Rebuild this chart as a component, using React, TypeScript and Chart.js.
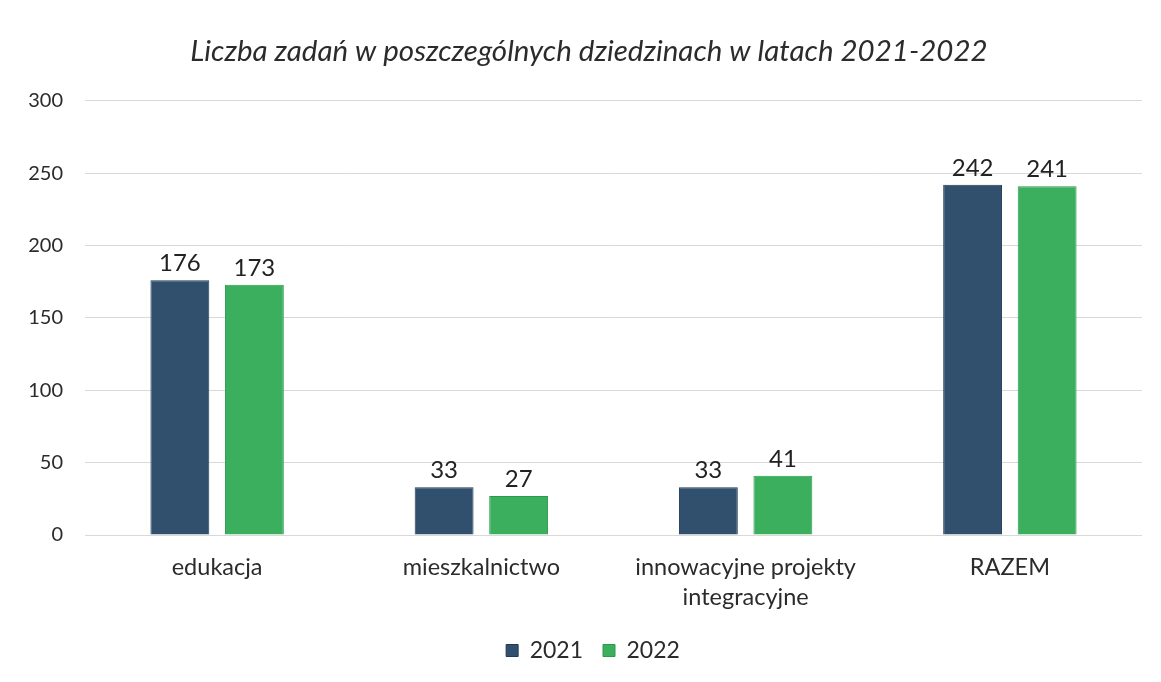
import React, { useEffect, useRef } from "react";
import { Chart, registerables } from "chart.js";

Chart.register(...registerables);

const categories: (string | string[])[] = [
  "edukacja",
  "mieszkalnictwo",
  ["innowacyjne projekty", "integracyjne"],
  "RAZEM",
];
const values2021 = [176, 33, 33, 242];
const values2022 = [173, 27, 41, 241];
const seriesLabels = ["2021", "2022"];
const yTicks = [0, 50, 100, 150, 200, 250, 300];
const titleText = "Liczba zadań w poszczególnych dziedzinach w latach 2021-2022";

const FONT = "Lato, 'Open Sans', sans-serif";

const valueLabels = {
  id: "valueLabels",
  afterDatasetsDraw(chart: any) {
    const ctx = chart.ctx;
    ctx.save();
    ctx.font = `24px ${FONT}`;
    ctx.fillStyle = "#222";
    ctx.textAlign = "center";
    ctx.textBaseline = "alphabetic";
    chart.data.datasets.forEach((ds: any, i: number) => {
      const meta = chart.getDatasetMeta(i);
      meta.data.forEach((bar: any, j: number) => {
        ctx.fillText(String(ds.data[j]), bar.x, bar.y - 9);
      });
    });
    ctx.restore();
  },
};

// shift the centred title and legend to the right, as in the reference
const shiftBlocks = {
  id: "shiftBlocks",
  afterLayout(chart: any) {
    if (chart.titleBlock) chart.titleBlock.left += 36;
    if (chart.legend) chart.legend.left += 44;
  },
};

export default function App() {
  const ref = useRef<HTMLCanvasElement>(null);
  useEffect(() => {
    document.body.style.margin = "0";
    const chart = new Chart(ref.current!, {
      type: "bar",
      data: {
        labels: categories,
        datasets: [
          {
            label: seriesLabels[0],
            data: values2021,
            backgroundColor: "#30506d",
            borderColor: "#1f3b55",
            borderWidth: 1,
            categoryPercentage: 0.564,
            barPercentage: 0.79,
          },
          {
            label: seriesLabels[1],
            data: values2022,
            backgroundColor: "#3caf5f",
            borderColor: "#2a9a4a",
            borderWidth: 1,
            categoryPercentage: 0.564,
            barPercentage: 0.79,
          },
        ],
      },
      options: {
        animation: false,
        responsive: false,
        layout: { padding: { left: 0, right: 19, top: 0, bottom: 10 } },
        plugins: {
          title: {
            display: true,
            text: titleText,
            color: "#2b2b2b",
            font: { family: FONT, size: 29.5, style: "italic", weight: "normal" },
            padding: { top: 34, bottom: 31.5 },
          },
          legend: {
            position: "bottom",
            labels: {
              color: "#2b2b2b",
              font: { family: FONT, size: 23 },
              boxWidth: 12,
              boxHeight: 12,
              padding: 20,
            },
          },
          tooltip: { enabled: false },
        },
        scales: {
          x: {
            afterFit: (s: any) => {
              s.height = 84;
            },
            grid: { display: false, drawTicks: false },
            border: { display: false },
            ticks: {
              color: "#2b2b2b",
              font: { family: FONT, size: 23.5, lineHeight: 1.3 },
              padding: 17,
              maxRotation: 0,
              autoSkip: false,
            },
          },
          y: {
            min: 0,
            max: 300,
            afterFit: (s: any) => {
              s.width = 85;
            },
            afterBuildTicks: (s: any) => {
              s.ticks = yTicks.map((v) => ({ value: v }));
            },
            grid: { color: "#d9d9d9", drawTicks: false },
            border: { display: false },
            ticks: {
              color: "#2b2b2b",
              font: { family: FONT, size: 20 },
              padding: 22,
            },
          },
        },
      },
      plugins: [valueLabels, shiftBlocks],
    });
    return () => chart.destroy();
  }, []);
  return (
    <div style={{ width: 1161, height: 682, background: "#fff" }}>
      <canvas ref={ref} width={1161} height={682} />
    </div>
  );
}
